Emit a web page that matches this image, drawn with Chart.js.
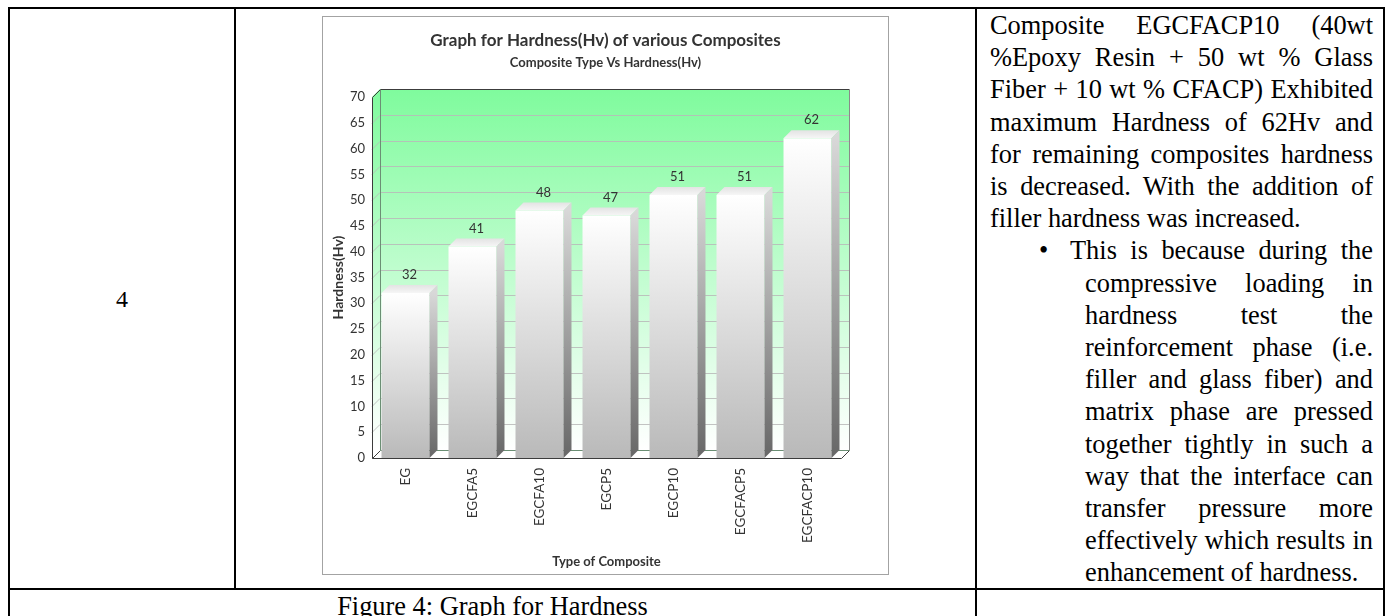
<!DOCTYPE html>
<html>
<head>
<meta charset="utf-8">
<script src="https://cdn.jsdelivr.net/npm/chart.js@4.4.1/dist/chart.umd.min.js"></script>
<style>
  html, body { margin: 0; padding: 0; background: #fff; }
  body { position: relative; width: 1389px; height: 616px; overflow: hidden; font-family: "Liberation Serif", "Times New Roman", serif; color: #000; }
  .ln { position: absolute; background: #000; }
  #num { position: absolute; left: 10px; width: 224px; top: 283px; text-align: center; font-size: 24px; line-height: 32px; }
  #box { position: absolute; left: 322px; top: 16px; width: 567px; height: 559px; box-sizing: border-box; border: 1px solid #a3a3a3; background: #fff; }
  #box canvas { display: block; }
  #txt { position: absolute; left: 990px; top: 9px; width: 383px; font-size: 26.4px; line-height: 32.2px; text-align: justify; }
  #txt p { margin: 0; }
  #txt p.bl { position: relative; margin-left: 95px; text-indent: -15px; }
  #txt .dot { position: absolute; left: -46px; top: 0; text-indent: 0; }
  #cap { position: absolute; left: 10px; width: 965px; top: 590px; text-align: center; font-size: 26.4px; line-height: 32.2px; white-space: nowrap; }
</style>
</head>
<body>
  <!-- table rules -->
  <div class="ln" style="left:8px;top:7px;width:1377px;height:2px"></div>
  <div class="ln" style="left:8px;top:7px;width:2px;height:609px"></div>
  <div class="ln" style="left:234px;top:7px;width:2px;height:583px"></div>
  <div class="ln" style="left:8px;top:588px;width:1377px;height:2px"></div>
  <div class="ln" style="left:975px;top:7px;width:2px;height:609px"></div>
  <div class="ln" style="left:1383px;top:7px;width:2px;height:609px"></div>

  <div id="num">4</div>

  <div id="box"><canvas id="chart" width="565" height="557"></canvas></div>

  <div id="txt">
    <p>Composite EGCFACP10 (40wt %Epoxy Resin + 50 wt % Glass Fiber + 10 wt % CFACP) Exhibited maximum Hardness of 62Hv and for remaining composites hardness is decreased. With the addition of filler hardness was increased.</p>
    <p class="bl"><span class="dot">•</span>This is because during the compressive loading in hardness test the reinforcement phase (i.e. filler and glass fiber) and matrix phase are pressed together tightly in such a way that the interface can transfer pressure more effectively which results in enhancement of hardness.</p>
  </div>

  <div id="cap">Figure 4: Graph for Hardness</div>

<script>
// Composite samples and their measured hardness (Hv)
const categories = ['EG', 'EGCFA5', 'EGCFA10', 'EGCP5', 'EGCP10', 'EGCFACP5', 'EGCFACP10'];
const hardness = [32, 41, 48, 47, 51, 51, 62];

// value axis range and tick step
const yMin = 0;
const yMax = 70;
const yStep = 5;

const chartTitle = 'Graph for Hardness(Hv) of various Composites';
const chartSubtitle = 'Composite Type Vs Hardness(Hv)';
const xTitle = 'Type of Composite';
const yTitle = 'Hardness(Hv)';

const DEPTH = 8;          // 3D extrusion offset in pixels
const FONT = 'Lato';
const TEXT = '#333333';

// Front face of each bar: white at the top fading to grey at the floor.
function frontFill(c) {
  const ys = c.chart.scales && c.chart.scales.y;
  if (c.type !== 'data' || !ys) return '#dddddd';
  const top = ys.getPixelForValue(c.raw);
  const bottom = ys.getPixelForValue(yMin);
  if (!isFinite(top) || !isFinite(bottom)) return '#dddddd';
  const g = c.chart.ctx.createLinearGradient(0, top, 0, bottom);
  g.addColorStop(0, '#ffffff');
  g.addColorStop(1, '#b9b9b9');
  return g;
}

// Draws the 3D box (back wall, left wall, floor) behind the bars and the
// side/top faces plus value labels in front of them.
const box3d = {
  id: 'box3d',
  beforeDatasetsDraw(chart) {
    const { ctx, chartArea: a } = chart;
    const ys = chart.scales.y;
    const d = DEPTH;
    ctx.save();

    // back wall with green-to-white gradient
    const wall = ctx.createLinearGradient(0, a.top - d, 0, a.bottom - d);
    wall.addColorStop(0, '#7ffb9d');
    wall.addColorStop(1, '#ffffff');
    ctx.fillStyle = wall;
    ctx.fillRect(a.left + d, a.top - d, a.right - a.left, a.bottom - a.top);

    // left side wall
    ctx.beginPath();
    ctx.moveTo(a.left, a.bottom);
    ctx.lineTo(a.left, a.top);
    ctx.lineTo(a.left + d, a.top - d);
    ctx.lineTo(a.left + d, a.bottom - d);
    ctx.closePath();
    ctx.fill();

    // grid lines on the left wall and back wall
    ctx.lineWidth = 1;
    ctx.strokeStyle = 'rgba(185,185,185,0.85)';
    ys.ticks.forEach(t => {
      if (t.value <= yMin || t.value >= yMax) return;
      const py = Math.round(ys.getPixelForValue(t.value)) + 0.5;
      ctx.beginPath();
      ctx.moveTo(a.left, py);
      ctx.lineTo(a.left + d, py - d);
      ctx.lineTo(a.right + d, py - d);
      ctx.stroke();
    });

    // floor
    const fl = Math.round(a.bottom) + 0.5;
    const L = Math.round(a.left) + 0.5;
    const R = Math.round(a.right) + 0.5;
    const T = Math.round(a.top) + 0.5;
    ctx.fillStyle = '#ffffff';
    ctx.beginPath();
    ctx.moveTo(L, fl);
    ctx.lineTo(R, fl);
    ctx.lineTo(R + d, fl - d);
    ctx.lineTo(L + d, fl - d);
    ctx.closePath();
    ctx.fill();

    // box outlines
    ctx.strokeStyle = '#3c3c3c';
    ctx.beginPath();
    ctx.moveTo(L, fl); ctx.lineTo(R, fl); ctx.lineTo(R + d, fl - d);
    ctx.moveTo(L, fl); ctx.lineTo(L, T); ctx.lineTo(L + d, T - d); ctx.lineTo(R + d, T - d);
    ctx.moveTo(L, fl); ctx.lineTo(L + d, fl - d);
    ctx.stroke();

    ctx.strokeStyle = '#6b8f74';
    ctx.beginPath();
    ctx.moveTo(L + d, T - d); ctx.lineTo(L + d, fl - d); ctx.lineTo(R + d, fl - d);
    ctx.stroke();

    ctx.strokeStyle = '#8a8a8a';
    ctx.beginPath();
    ctx.moveTo(R + d, T - d); ctx.lineTo(R + d, fl - d);
    ctx.stroke();

    ctx.restore();
  },
  afterDatasetsDraw(chart) {
    const { ctx } = chart;
    const d = DEPTH;
    const meta = chart.getDatasetMeta(0);
    ctx.save();
    meta.data.forEach((bar, i) => {
      const { x, y, base, width } = bar.getProps(['x', 'y', 'base', 'width'], true);
      const l = x - width / 2;
      const r = x + width / 2;

      // top face
      const tg = ctx.createLinearGradient(0, y, 0, y - d);
      tg.addColorStop(0, '#f6f6f6');
      tg.addColorStop(1, '#e3e3e3');
      ctx.fillStyle = tg;
      ctx.beginPath();
      ctx.moveTo(l, y);
      ctx.lineTo(r, y);
      ctx.lineTo(r + d, y - d);
      ctx.lineTo(l + d, y - d);
      ctx.closePath();
      ctx.fill();

      // right side face
      const sg = ctx.createLinearGradient(0, y, 0, base);
      sg.addColorStop(0, '#d8d8d8');
      sg.addColorStop(1, '#676767');
      ctx.fillStyle = sg;
      ctx.beginPath();
      ctx.moveTo(r, y);
      ctx.lineTo(r + d, y - d);
      ctx.lineTo(r + d, base - d);
      ctx.lineTo(r, base);
      ctx.closePath();
      ctx.fill();

      // value label
      ctx.fillStyle = TEXT;
      ctx.font = `13px ${FONT}`;
      ctx.textAlign = 'center';
      ctx.textBaseline = 'middle';
      ctx.fillText(String(hardness[i]), x + d / 2, y - d - 10);
    });
    ctx.restore();
  }
};

new Chart(document.getElementById('chart'), {
  type: 'bar',
  data: {
    labels: categories,
    datasets: [{
      label: yTitle,
      data: hardness,
      borderWidth: 0,
      categoryPercentage: 1,
      barPercentage: 0.716,
      backgroundColor: frontFill
    }]
  },
  options: {
    responsive: false,
    animation: false,
    events: [],
    devicePixelRatio: 1,
    layout: { padding: 0 },
    plugins: {
      legend: { display: false },
      tooltip: { enabled: false },
      title: {
        display: true, text: chartTitle, color: TEXT,
        font: { family: FONT, size: 17, weight: 'bold' },
        padding: { top: 13.8, bottom: 4 }
      },
      subtitle: {
        display: true, text: chartSubtitle, color: TEXT,
        font: { family: FONT, size: 13, weight: 'bold' },
        padding: { top: 0, bottom: 26.2 }
      }
    },
    scales: {
      x: {
        grid: { display: false, drawTicks: false },
        border: { display: false },
        ticks: {
          minRotation: 90, maxRotation: 90, padding: 10, color: TEXT,
          font: { family: FONT, size: 13.5 }
        },
        title: {
          display: true, text: xTitle, color: TEXT,
          font: { family: FONT, size: 13, weight: 'bold' },
          padding: { top: 4, bottom: 4.2 }
        },
        afterFit(s) { s.height = 116; }
      },
      y: {
        min: yMin, max: yMax,
        grid: { display: false, drawTicks: false },
        border: { display: false },
        ticks: {
          stepSize: yStep, padding: 7, color: TEXT,
          font: { family: FONT, size: 13 }
        },
        title: {
          display: true, text: yTitle, color: TEXT,
          font: { family: FONT, size: 14, weight: 'bold' },
          padding: { top: 7, bottom: 0 }
        },
        afterFit(s) { s.width = 49; }
      },
      // blank strip on the right that leaves room for the box depth
      side: {
        type: 'linear', position: 'right', min: yMin, max: yMax,
        grid: { display: false, drawTicks: false },
        border: { display: false },
        ticks: { display: false },
        afterFit(s) { s.width = 47; }
      }
    }
  },
  plugins: [box3d]
});
</script>
</body>
</html>
